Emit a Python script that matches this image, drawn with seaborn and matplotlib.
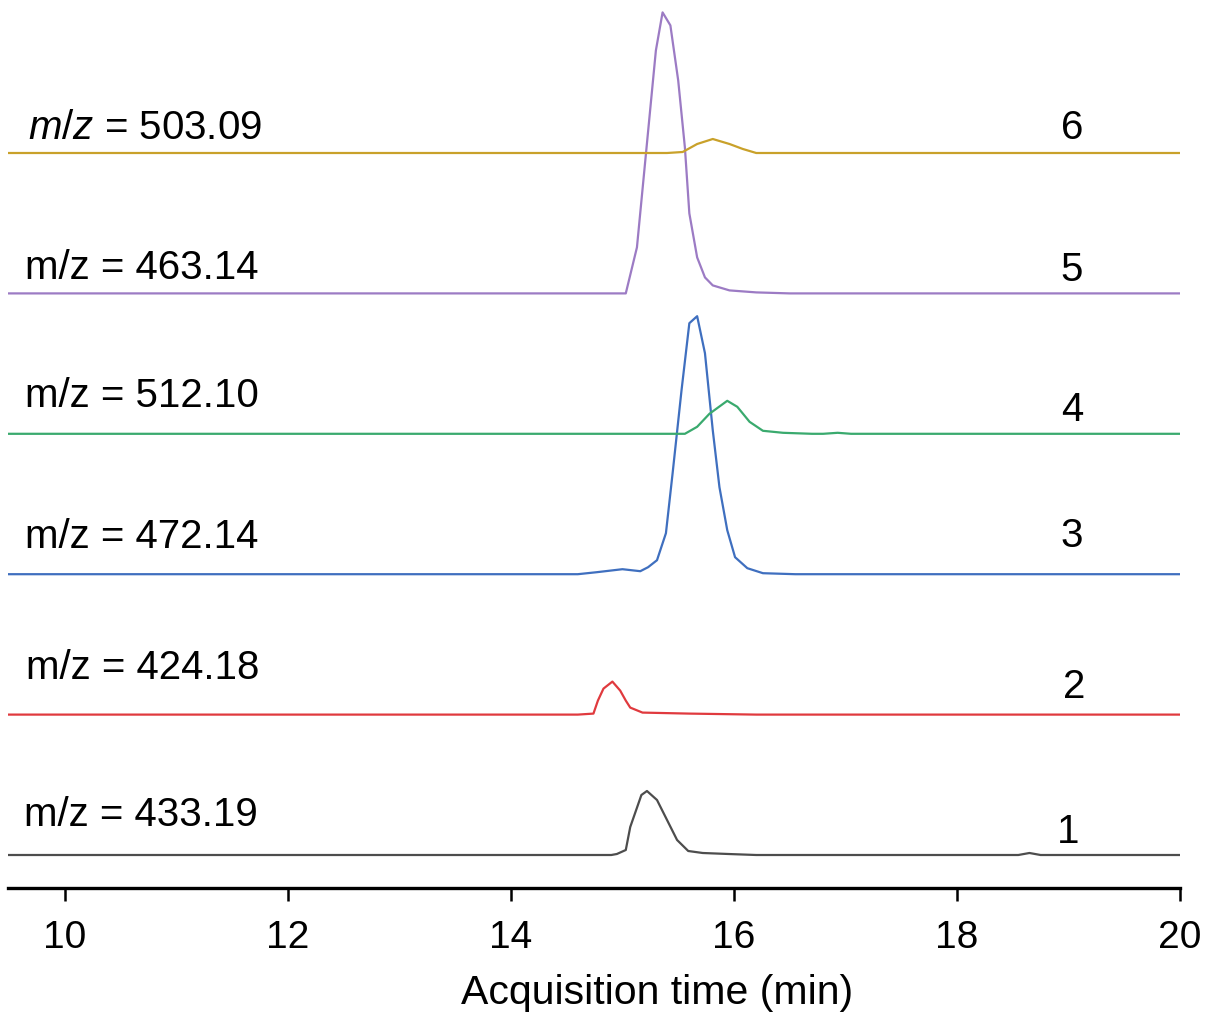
import numpy as np
import pandas as pd
import matplotlib
matplotlib.use("Agg")
import matplotlib.pyplot as plt
import seaborn as sns

# ---------------- data ----------------
t1 = [9.49, 14.90, 14.95, 15.03, 15.07, 15.17, 15.22, 15.31, 15.40, 15.49, 15.59, 15.72, 15.95, 16.20,
      18.55, 18.65, 18.75, 20.0]
s1 = [0, 0, 1, 5, 28, 60, 64, 55, 35, 15, 4, 2, 1, 0, 0, 2, 0, 0]

t2 = [9.49, 14.60, 14.74, 14.78, 14.83, 14.91, 14.98, 15.03, 15.07, 15.18, 15.60, 16.20, 20.0]
s2 = [0, 0, 1, 14, 26, 33, 24, 14, 7, 2, 1, 0, 0]

t3 = [9.49, 14.60, 14.77, 15.00, 15.16, 15.23, 15.31, 15.39, 15.45, 15.53, 15.60, 15.67,
      15.74, 15.81, 15.87, 15.94, 16.01, 16.12, 16.26, 16.55, 20.0]
s3 = [0, 0, 2, 5, 3, 7, 14, 41, 101, 184, 251, 258, 221, 144, 87, 44, 17, 6, 1, 0, 0]

t4 = [9.49, 15.56, 15.67, 15.78, 15.94, 16.03, 16.14, 16.26, 16.44, 16.70, 16.80, 16.93, 17.05, 17.20, 20.0]
s4 = [0, 0, 7, 20, 33, 27, 12, 3, 1, 0, 0, 1, 0, 0, 0]

t5 = [9.49, 15.03, 15.13, 15.30, 15.36, 15.43, 15.50, 15.56, 15.60, 15.67, 15.74, 15.81, 15.96, 16.20,
      16.50, 20.0]
s5 = [0, 0, 46, 243, 281, 268, 213, 146, 80, 36, 16, 8, 3, 1, 0, 0]

t6 = [9.49, 15.40, 15.54, 15.67, 15.81, 15.96, 16.08, 16.20, 20.0]
s6 = [0, 0, 1, 9, 14, 9, 4, 0, 0]

trace_ids = ["1", "2", "3", "4", "5", "6"]
mz_labels = ["m/z = 433.19", "m/z = 424.18", "m/z = 472.14",
             "m/z = 512.10", "m/z = 463.14", "$m/z$ = 503.09"]
xticks = [10, 12, 14, 16, 18, 20]
xlabel = "Acquisition time (min)"

# ---------------- styling / layout ----------------
colors = ["#4d4d4d", "#e03a3e", "#3f6fbf", "#3aaa6e", "#9c7bc4", "#c9a12a"]
base0, step = 33.0, 140.4
mz_dy = [40, 47, 37, 38, 25, 25]
mz_x = [9.63, 9.65, 9.645, 9.645, 9.645, 9.67]
num_dy = [23, 28, 38, 24, 23, 25]
num_x = [18.90, 18.95, 18.93, 18.93, 18.93, 18.93]

sns.set_theme(style="white")
plt.rcParams["font.family"] = ["Liberation Sans", "DejaVu Sans"]
plt.rcParams["mathtext.fontset"] = "custom"
plt.rcParams["mathtext.it"] = "Liberation Sans:italic"
plt.rcParams["mathtext.rm"] = "Liberation Sans"

times = [t1, t2, t3, t4, t5, t6]
sigs = [s1, s2, s3, s4, s5, s6]
frames = []
for i, (t, s) in enumerate(zip(times, sigs)):
    frames.append(pd.DataFrame({"time": t,
                                "signal": np.array(s, float) + base0 + step * i,
                                "trace": trace_ids[i]}))
df = pd.concat(frames, ignore_index=True)

fig = plt.figure(figsize=(12.06, 10.14), dpi=100)
ax = fig.add_axes([8 / 1206, 1 - 888 / 1014, (1180 - 8) / 1206, (888 - 5) / 1014])

sns.lineplot(data=df, x="time", y="signal", hue="trace", palette=colors,
             hue_order=trace_ids, estimator=None, sort=False, legend=False,
             linewidth=1.6, ax=ax)

ax.set_xlim(9.49, 20.0)
ax.set_ylim(0, 883)
ax.set_yticks([])
ax.set_ylabel("")
ax.set_xticks(xticks)
ax.set_xticklabels([str(v) for v in xticks], fontsize=28)
ax.set_xlabel(xlabel, fontsize=29.5, color="black")
ax.xaxis.label.set_va("center")
ax.xaxis.set_label_coords((657 - 8) / 1172, -(993 - 888) / 883)
ax.tick_params(axis="x", direction="out", length=9, width=1.8, pad=14,
               bottom=True, color="black", labelcolor="black")
for side in ["top", "right", "left"]:
    ax.spines[side].set_visible(False)
ax.spines["bottom"].set_linewidth(2.4)
ax.spines["bottom"].set_color("black")

for i in range(6):
    b = base0 + step * i
    ax.text(mz_x[i], b + mz_dy[i], mz_labels[i], fontsize=29, va="center", ha="left",
            color="black")
    ax.text(num_x[i], b + num_dy[i], trace_ids[i], fontsize=29, va="center", ha="left",
            color="black")

fig.savefig("out.png", dpi=100, facecolor="white")
